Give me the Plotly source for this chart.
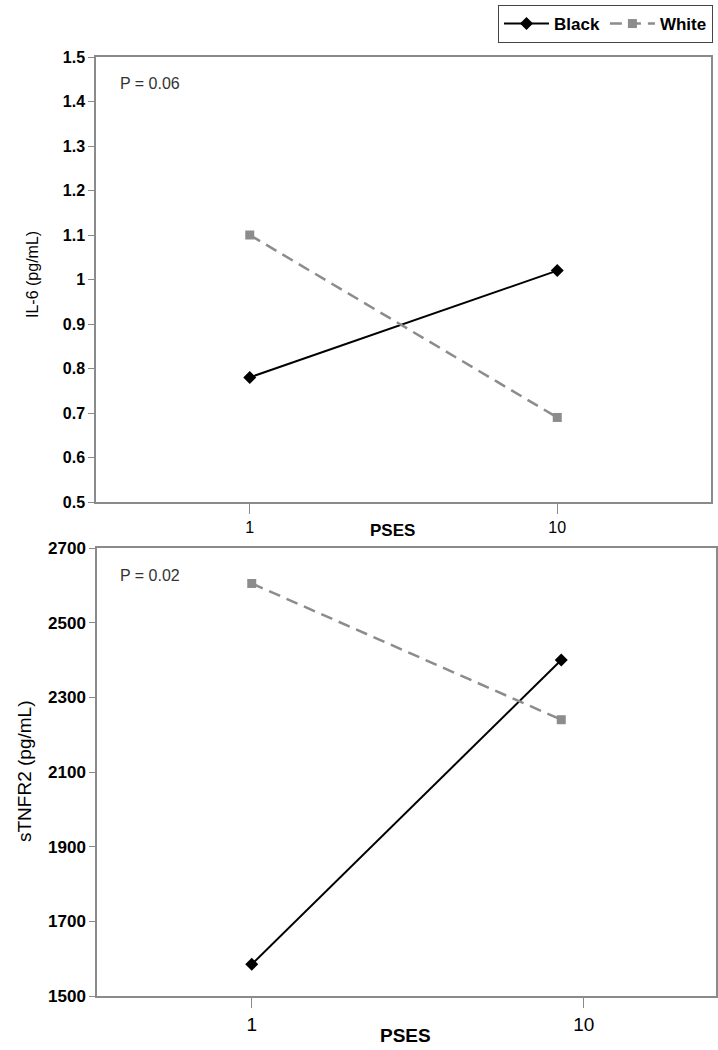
import plotly.graph_objects as go

# data
pses = ["1", "10"]
il6_black = [0.78, 1.02]
il6_white = [1.10, 0.69]
tnf_black = [1585, 2400]
tnf_white = [2605, 2240]
il6_ticks = [0.5, 0.6, 0.7, 0.8, 0.9, 1.0, 1.1, 1.2, 1.3, 1.4, 1.5]
tnf_ticks = [1500, 1700, 1900, 2100, 2300, 2500, 2700]

FONT = "Arial, Liberation Sans, sans-serif"
xpos = list(range(len(pses)))

black_style = dict(mode="lines+markers", line=dict(color="black", width=2),
                   marker=dict(symbol="diamond", size=10, color="black"))
white_style = dict(mode="lines+markers", line=dict(color="#8c8c8c", width=2.5, dash="12px,7px"),
                   marker=dict(symbol="square", size=9, color="#8c8c8c"))

fig = go.Figure()
fig.add_trace(go.Scatter(x=xpos, y=il6_black, name="<b>Black</b>", xaxis="x", yaxis="y", **black_style))
fig.add_trace(go.Scatter(x=xpos, y=il6_white, name="<b>White</b>", xaxis="x", yaxis="y", **white_style))
fig.add_trace(go.Scatter(x=xpos, y=tnf_black, name="Black", xaxis="x2", yaxis="y2",
                         showlegend=False, **black_style))
fig.add_trace(go.Scatter(x=xpos, y=tnf_white, name="White", xaxis="x2", yaxis="y2",
                         showlegend=False, **white_style))

axis_common = dict(showline=True, mirror=True, linecolor="#8a8a8a", linewidth=1.5,
                   showgrid=False, zeroline=False, ticks="outside", tickcolor="#8a8a8a",
                   automargin=False)

W, H = 718, 1050
fig.update_layout(
    width=W, height=H,
    margin=dict(l=0, r=0, t=0, b=0, pad=0, autoexpand=False),
    plot_bgcolor="white", paper_bgcolor="white",
    font=dict(family=FONT, color="black"),
    xaxis=dict(domain=[96 / W, 711 / W], range=[-0.5, 1.5], anchor="y",
               tickvals=xpos, ticktext=pses, ticklen=10,
               tickfont=dict(size=16, family=FONT), **axis_common),
    yaxis=dict(domain=[1 - 502 / H, 1 - 57 / H], range=[0.5, 1.5], anchor="x",
               tickvals=il6_ticks, ticklen=6,
               tickfont=dict(size=16, family=FONT, weight="bold"), **axis_common),
    xaxis2=dict(domain=[97 / W, 716 / W], range=[-0.5, 1.5], anchor="y2",
                tickvals=[0, 1.073], ticktext=pses, ticklen=10,
                tickfont=dict(size=19, family=FONT), **axis_common),
    yaxis2=dict(domain=[1 - 996 / H, 1 - 548 / H], range=[1500, 2700], anchor="x2",
                tickvals=tnf_ticks, ticklen=6,
                tickfont=dict(size=17, family=FONT, weight="bold"), **axis_common),
    legend=dict(orientation="h", x=713 / W, xanchor="right", y=1 - 5 / H, yanchor="top",
                bordercolor="#444", borderwidth=1, bgcolor="white",
                font=dict(size=17, family=FONT), itemwidth=45),
)


def note(text, x, y, size, color="black", angle=0, anchor="center"):
    fig.add_annotation(text=text, x=x / W, y=1 - y / H, xref="paper", yref="paper",
                       showarrow=False, textangle=angle, xanchor=anchor, yanchor="middle",
                       font=dict(size=size, color=color, family=FONT))


note("P = 0.06", 118, 84, 16, "#333", anchor="left")
note("P = 0.02", 118, 575, 16, "#333", anchor="left")
note("IL-6 (pg/mL)", 33, 275, 16, angle=-90)
note("sTNFR2 (pg/mL)", 24, 772, 19, angle=-90)
note("<b>PSES</b>", 392, 530, 17)
note("<b>PSES</b>", 405, 1035, 19)

fig.write_html("out.html", config={"displayModeBar": False},
               post_script="document.body.style.margin='0';")
